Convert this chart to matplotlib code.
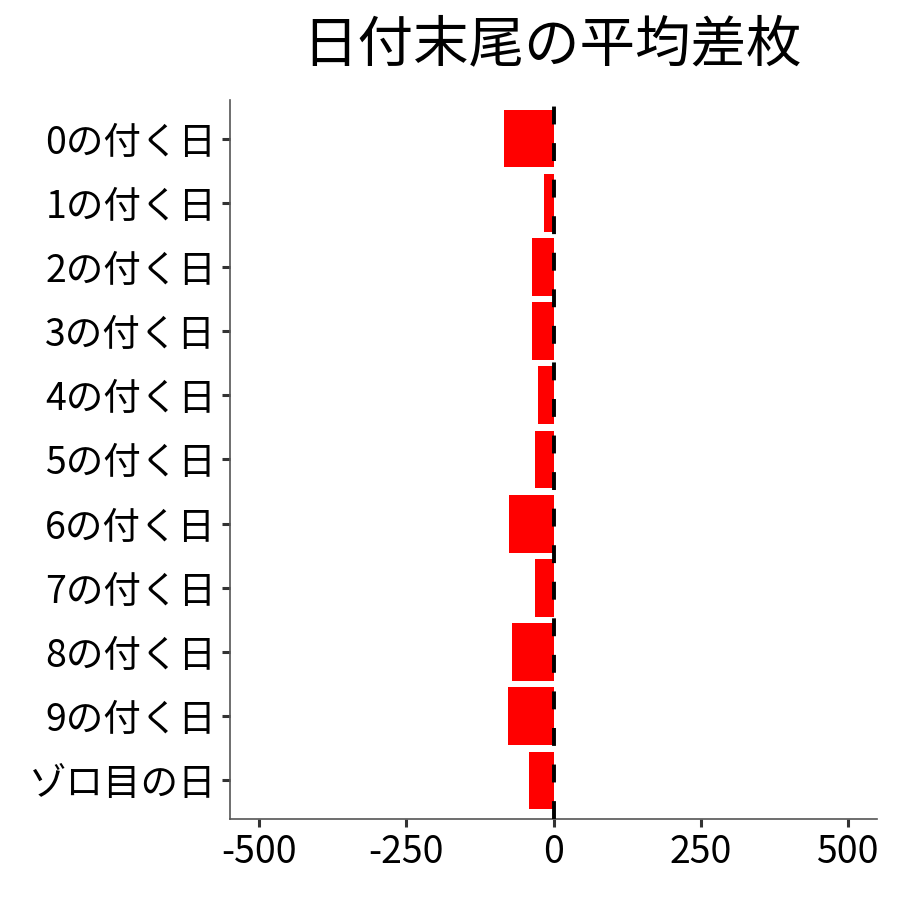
import numpy as np
import matplotlib
matplotlib.use('Agg')
import matplotlib.pyplot as plt

plt.rcParams['font.family'] = ['Noto Sans CJK JP', 'DejaVu Sans']

categories = ['0の付く日', '1の付く日', '2の付く日', '3の付く日', '4の付く日',
              '5の付く日', '6の付く日', '7の付く日', '8の付く日', '9の付く日',
              'ゾロ目の日']
avg_diff = [-85, -17, -37, -37, -26, -31, -75, -32, -70, -78, -41]
xticks = [-500, -250, 0, 250, 500]

fig = plt.figure(figsize=(9, 9), dpi=100)
ax = fig.add_axes([0.2556, 0.09, 0.7188, 0.7989])

y = np.arange(len(categories))
ax.barh(y, avg_diff, height=0.9, color='#ff0000', zorder=2)
ax.axvline(0, color='black', linewidth=2.8, dashes=(4.6, 4.8), zorder=3)

ax.set_xlim(-550, 550)
ax.set_ylim(len(categories) - 0.4, -0.6)
ax.set_yticks(y)
ax.set_yticklabels(categories, fontsize=27, color='black')
ax.set_xticks(xticks)
ax.set_xticklabels([str(v) for v in xticks], fontsize=27, color='black')

for s in ['top', 'right']:
    ax.spines[s].set_visible(False)
for s in ['left', 'bottom']:
    ax.spines[s].set_color('#555555')
    ax.spines[s].set_linewidth(1.2)
ax.tick_params(length=6, width=2.2, color='#333333', pad=4)

fig.text(0.613, 0.95, '日付末尾の平均差枚', fontsize=40, ha='center', va='center')

fig.savefig('out.png', dpi=100)
